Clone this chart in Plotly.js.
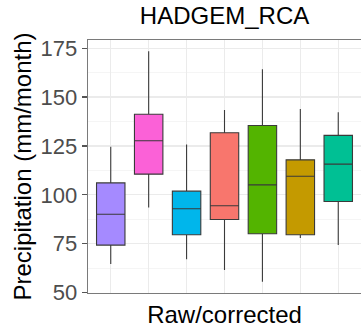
<!DOCTYPE html>
<html>
<head>
<meta charset="utf-8">
<script src="https://cdn.plot.ly/plotly-3.0.1.min.js"></script>
<style>html,body{margin:0;padding:0;background:#fff;}#chart{width:361px;height:333px;}</style>
</head>
<body>
<div id="chart"></div>
<script>
var categories = ["A", "B", "C", "D", "E", "F", "G"];
var lowerWhisker = [64.6, 93.5, 67.0, 61.6, 55.6, 77.9, 74.3];
var q1Values     = [74.3, 110.6, 79.6, 87.4, 80.1, 79.6, 96.6];
var medianValues = [90.1, 127.7, 92.9, 94.4, 105.1, 109.5, 115.7];
var q3Values     = [106.1, 141.2, 101.9, 131.8, 135.5, 117.9, 130.4];
var upperWhisker = [124.6, 173.5, 125.7, 143.4, 164.3, 143.9, 142.3];
var boxColors = ["#A58AFF", "#FB61D7", "#00B6EB", "#F8766D", "#53B400", "#C49A00", "#00C094"];

var traces = categories.map(function(c, i) {
  return {
    type: "box",
    x: [c],
    q1: [q1Values[i]],
    median: [medianValues[i]],
    q3: [q3Values[i]],
    lowerfence: [lowerWhisker[i]],
    upperfence: [upperWhisker[i]],
    fillcolor: boxColors[i],
    line: {color: "#3a3a3a", width: 1.1},
    whiskerwidth: 0,
    width: 0.75,
    showlegend: false,
    hoverinfo: "skip"
  };
});

var font = "Liberation Sans, Arial, sans-serif";
var layout = {
  width: 361, height: 333,
  margin: {l: 88, r: 0, t: 40, b: 40},
  paper_bgcolor: "#fff",
  plot_bgcolor: "#fff",
  boxmode: "overlay",
  title: {text: "HADGEM_RCA", font: {family: font, size: 24, color: "#000"}, x: 0.622, xanchor: "center", y: 0.952, yanchor: "middle"},
  xaxis: {
    type: "category",
    categoryarray: categories,
    range: [-0.6, 6.6],
    showticklabels: false,
    ticks: "",
    showgrid: true,
    gridcolor: "#EBEBEB",
    gridwidth: 1.2,
    showline: true,
    linecolor: "#7a7a7a",
    linewidth: 1.3,
    mirror: true,
    zeroline: false,
    fixedrange: true,
    title: {text: "Raw/corrected", font: {family: font, size: 24, color: "#000"}, standoff: 13}
  },
  yaxis: {
    range: [49.8, 179.2],
    tickmode: "linear",
    tick0: 50,
    dtick: 25,
    ticks: "outside",
    ticklen: 5,
    tickwidth: 1.2,
    tickcolor: "#555",
    tickfont: {family: font, size: 22, color: "#4D4D4D"},
    showgrid: true,
    gridcolor: "#EBEBEB",
    gridwidth: 1.2,
    minor: {dtick: 12.5, tick0: 50, showgrid: true, gridcolor: "#F5F5F5", gridwidth: 1, ticks: ""},
    showline: true,
    linecolor: "#7a7a7a",
    linewidth: 1.3,
    mirror: false,
    zeroline: false,
    fixedrange: true,
    title: {text: "Precipitation (mm/month)", font: {family: font, size: 24, color: "#000"}, standoff: 2}
  }
};

Plotly.newPlot("chart", traces, layout, {displayModeBar: false, staticPlot: true});
</script>
</body>
</html>
